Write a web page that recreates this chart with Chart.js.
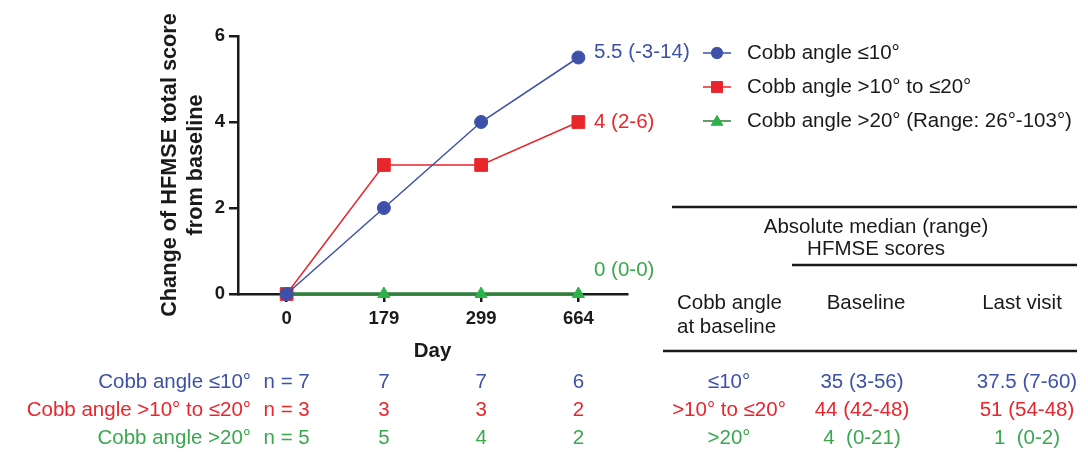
<!DOCTYPE html>
<html>
<head>
<meta charset="utf-8">
<script src="https://cdn.jsdelivr.net/npm/chart.js@4.4.0/dist/chart.umd.min.js"></script>
<style>
  html, body { margin: 0; padding: 0; background: #fff; }
  #wrap { width: 1088px; height: 463px; position: relative; }
</style>
</head>
<body>
<div id="wrap"><canvas id="chart"></canvas></div>
<script>
// HFMSE change from baseline by Cobb angle group

const days = ['0', '179', '299', '664'];
const yTicks = [0, 2, 4, 6];
const seriesNames = ['Cobb angle ≤10°', 'Cobb angle >10° to ≤20°', 'Cobb angle >20° (Range: 26°-103°)'];
const cobbLow = [0, 2, 4, 5.5];
const cobbMid = [0, 3, 3, 4];
const cobbHigh = [0, 0, 0, 0];
const endLabels = ['5.5 (-3-14)', '4 (2-6)', '0 (0-0)'];

// numbers at risk under the x axis
const rowNames = ['Cobb angle ≤10°', 'Cobb angle >10° to ≤20°', 'Cobb angle >20°'];
const nLow = [7, 7, 7, 6];
const nMid = [3, 3, 3, 2];
const nHigh = [5, 5, 4, 2];

// side table
const tableAngle = ['≤10°', '>10° to ≤20°', '>20°'];
const tableBaseline = ['35 (3-56)', '44 (42-48)', '4  (0-21)'];
const tableLast = ['37.5 (7-60)', '51 (54-48)', '1  (0-2)'];

const BLUE = '#3e51a8';
const RED = '#e8262c';
const GREEN_TXT = '#3aa84f';
const GREEN_LINE = '#2f7f3a';
const GREEN_PT = '#2bb34a';
const INK = '#1a1a1a';
const FONT = '"Liberation Sans", Arial, Helvetica, sans-serif';

const rowColors = [BLUE, RED, GREEN_TXT];
const nRows = [nLow, nMid, nHigh];

function text(ctx, str, x, y, align, color, size, weight) {
  ctx.font = `${weight || 'normal'} ${size}px ${FONT}`;
  ctx.fillStyle = color;
  ctx.textAlign = align;
  ctx.textBaseline = 'middle';
  ctx.fillText(str, x, y);
}

function hline(ctx, x1, x2, y) {
  ctx.beginPath();
  ctx.strokeStyle = INK;
  ctx.lineWidth = 2.5;
  ctx.moveTo(x1, y);
  ctx.lineTo(x2, y);
  ctx.stroke();
}

const extras = {
  id: 'extras',
  afterDraw(chart) {
    const ctx = chart.ctx;
    const xs = chart.scales.x;
    ctx.save();

    // end-of-line labels
    const endY = [52, 122, 270];
    const endCol = [BLUE, RED, GREEN_TXT];
    endLabels.forEach((s, i) => text(ctx, s, 594, endY[i], 'left', endCol[i], 20.5));

    // legend
    const legY = [53, 87, 121];
    chart.data.datasets.forEach((ds, i) => {
      ctx.beginPath();
      ctx.strokeStyle = ds.borderColor;
      ctx.lineWidth = 1.5;
      ctx.moveTo(703, legY[i]);
      ctx.lineTo(731, legY[i]);
      ctx.stroke();
      Chart.helpers.drawPoint(ctx, {
        pointStyle: ds.pointStyle, radius: ds.pointRadius * 0.8, borderWidth: 1
      }, 717, legY[i] + (ds.pointStyle === 'triangle' ? 1 : 0));
      ctx.fillStyle = ds.pointBackgroundColor;
      ctx.strokeStyle = ds.pointBackgroundColor;
      ctx.fill();
      ctx.stroke();
      text(ctx, seriesNames[i], 747, legY[i], 'left', INK, 20.5);
    });

    // side table
    hline(ctx, 672, 1077, 207);
    text(ctx, 'Absolute median (range)', 876, 227, 'center', INK, 20.5);
    text(ctx, 'HFMSE scores', 876, 249, 'center', INK, 20.5);
    hline(ctx, 792, 1077, 265);
    text(ctx, 'Cobb angle', 677, 303, 'left', INK, 20.5);
    text(ctx, 'at baseline', 677, 327, 'left', INK, 20.5);
    text(ctx, 'Baseline', 866, 303, 'center', INK, 20.5);
    text(ctx, 'Last visit', 1022, 303, 'center', INK, 20.5);
    hline(ctx, 663, 1077, 351);

    // rows below the chart
    const rowY = [382, 410, 438];
    rowNames.forEach((name, r) => {
      const c = rowColors[r];
      text(ctx, name, 251, rowY[r], 'right', c, 20.5);
      nRows[r].forEach((n, k) => {
        const label = k === 0 ? `n = ${n}` : String(n);
        text(ctx, label, xs.getPixelForValue(k), rowY[r], 'center', c, 20.5);
      });
      text(ctx, tableAngle[r], 729, rowY[r], 'center', c, 20.5);
      text(ctx, tableBaseline[r], 862, rowY[r], 'center', c, 20.5);
      text(ctx, tableLast[r], 1027, rowY[r], 'center', c, 20.5);
    });

    ctx.restore();
  }
};

new Chart(document.getElementById('chart'), {
  type: 'line',
  data: {
    labels: days,
    datasets: [
      {
        label: seriesNames[0], data: cobbLow,
        borderColor: BLUE, borderWidth: 1.5,
        pointStyle: 'circle', pointRadius: 6.5,
        pointBackgroundColor: BLUE, pointBorderColor: BLUE, pointBorderWidth: 1,
        tension: 0, clip: false
      },
      {
        label: seriesNames[1], data: cobbMid,
        borderColor: RED, borderWidth: 1.5,
        pointStyle: 'rect', pointRadius: 9,
        pointBackgroundColor: RED, pointBorderColor: RED, pointBorderWidth: 1,
        tension: 0, clip: false
      },
      {
        label: seriesNames[2], data: cobbHigh,
        borderColor: GREEN_LINE, borderWidth: 3.5,
        pointStyle: 'triangle', pointRadius: 7,
        pointBackgroundColor: GREEN_PT, pointBorderColor: GREEN_PT, pointBorderWidth: 1,
        tension: 0, clip: false
      }
    ]
  },
  options: {
    responsive: true,
    maintainAspectRatio: false,
    animation: false,
    layout: { padding: { left: 157, top: 36, right: 461, bottom: 99 } },
    plugins: { legend: { display: false }, tooltip: { enabled: false } },
    scales: {
      x: {
        type: 'category',
        offset: true,
        border: { display: true, color: INK, width: 2.5 },
        grid: { drawOnChartArea: false, drawTicks: true, tickLength: 8, color: INK, lineWidth: 2.5 },
        ticks: { color: INK, padding: 6, font: { family: FONT, size: 18.5, weight: 'bold' } },
        title: { display: true, text: 'Day', color: INK, padding: 0, font: { family: FONT, size: 20.5, weight: 'bold' } },
        afterFit(scale) { scale.height = 70; }
      },
      y: {
        min: 0, max: 6,
        afterBuildTicks(scale) { scale.ticks = yTicks.map(v => ({ value: v })); },
        border: { display: true, color: INK, width: 2.5 },
        grid: { drawOnChartArea: false, drawTicks: true, tickLength: 9, color: INK, lineWidth: 2.5 },
        ticks: { color: INK, padding: 4, font: { family: FONT, size: 18.5, weight: 'bold' } },
        title: {
          display: true, text: ['Change of HFMSE total score', 'from baseline'],
          color: INK, padding: 0, font: { family: FONT, size: 21.7, weight: 'bold' }
        },
        afterFit(scale) { scale.width = 81; }
      }
    }
  },
  plugins: [extras]
});
</script>
</body>
</html>
